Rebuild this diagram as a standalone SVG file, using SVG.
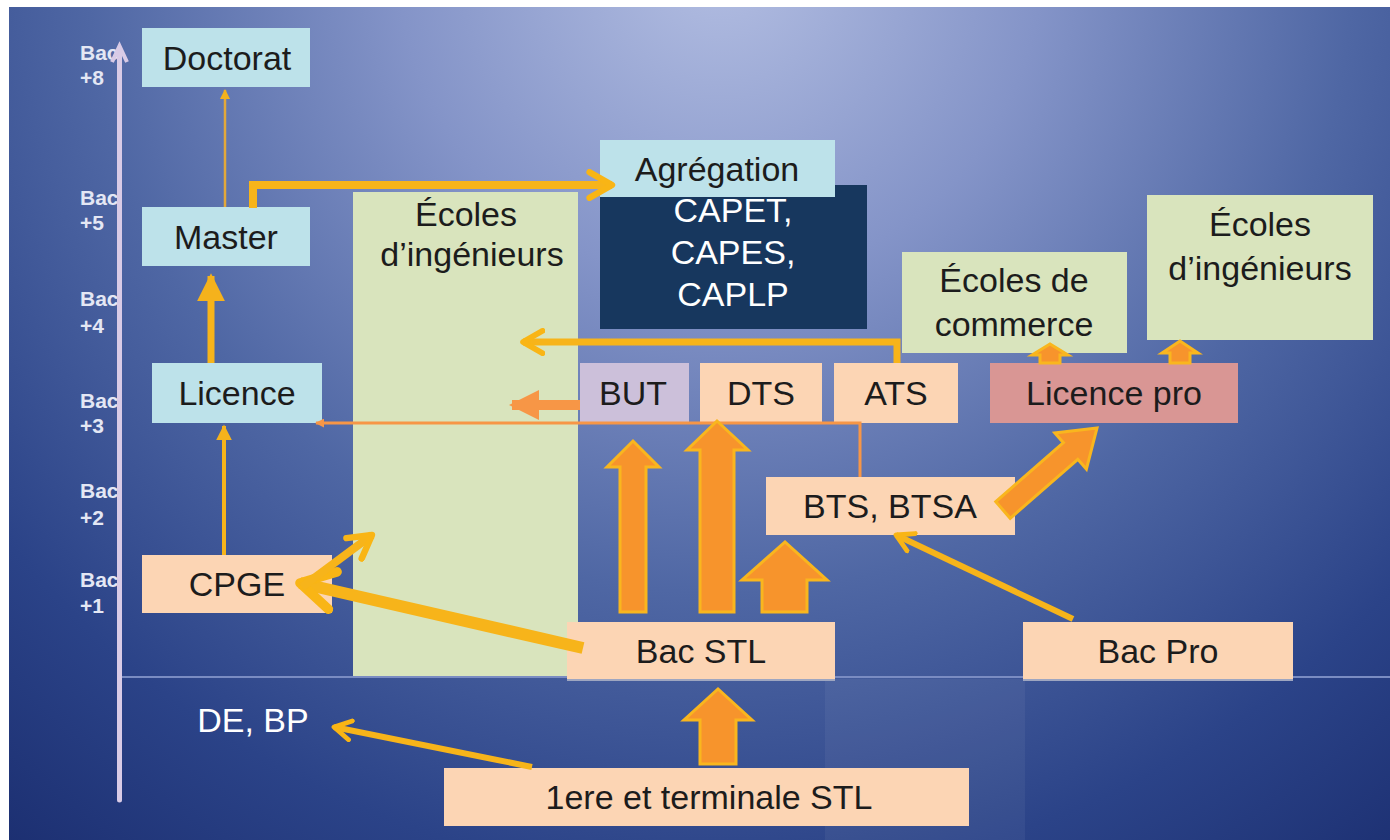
<svg xmlns="http://www.w3.org/2000/svg" width="1390" height="840" viewBox="0 0 1390 840">
<defs>
<radialGradient id="bg" gradientUnits="userSpaceOnUse" cx="720" cy="-40" r="1150">
<stop offset="0" stop-color="#b3bee2"/>
<stop offset="0.28" stop-color="#8494c8"/>
<stop offset="0.55" stop-color="#4f67a4"/>
<stop offset="0.8" stop-color="#2b4388"/>
<stop offset="1" stop-color="#1b2e70"/>
</radialGradient>
<marker id="chev" viewBox="0 0 10 10" refX="8" refY="5" markerWidth="4" markerHeight="4" orient="auto" markerUnits="strokeWidth">
<path d="M1,1 L8,5 L1,9" fill="none" stroke="#f9b515" stroke-width="2" stroke-linecap="round" stroke-linejoin="round"/>
</marker>
<marker id="tri" viewBox="0 0 10 10" refX="9" refY="5" markerWidth="3" markerHeight="3" orient="auto" markerUnits="strokeWidth">
<path d="M0,0 L10,5 L0,10 z" fill="#f79646"/>
</marker>
<marker id="triy" viewBox="0 0 10 10" refX="9" refY="5" markerWidth="4" markerHeight="4" orient="auto" markerUnits="strokeWidth">
<path d="M0,0 L10,5 L0,10 z" fill="#f5b21c"/>
</marker>
</defs>
<style>
.lbl{font-family:"Liberation Sans",Arial,sans-serif;font-size:34px;fill:#1c1c1c;text-anchor:middle}
.wt{font-family:"Liberation Sans",Arial,sans-serif;font-size:34px;fill:#ffffff;text-anchor:middle}
.ax{font-family:"Liberation Sans",Arial,sans-serif;font-size:21px;font-weight:bold;fill:#e4e7f4}
.blue{fill:#bde2ea}
.peach{fill:#fcd5b4}
.green{fill:#d9e4bd}
.gold{fill:none;stroke:#f7b41a;stroke-linecap:butt}
.org{fill:none;stroke:#f79646}
.blk{fill:#f7942c;stroke:#f9b61e;stroke-width:3;stroke-linejoin:miter}
</style>
<rect width="1390" height="840" fill="#ffffff"/>
<rect x="9" y="7" width="1381" height="833" fill="url(#bg)"/>
<rect x="825" y="679" width="200" height="161" fill="#ffffff" opacity="0.05"/>
<line x1="122" y1="677" x2="1390" y2="677" stroke="#7a8cc2" stroke-width="2"/>

<g id="axis">
<text class="ax" x="80" y="60">Bac</text><text class="ax" x="80" y="85">+8</text>
<text class="ax" x="80" y="205">Bac</text><text class="ax" x="80" y="230">+5</text>
<text class="ax" x="80" y="306">Bac</text><text class="ax" x="80" y="333">+4</text>
<text class="ax" x="80" y="408">Bac</text><text class="ax" x="80" y="433">+3</text>
<text class="ax" x="80" y="498">Bac</text><text class="ax" x="80" y="525">+2</text>
<text class="ax" x="80" y="587">Bac</text><text class="ax" x="80" y="613">+1</text>
<line x1="119.5" y1="52" x2="119.5" y2="800" stroke="#d9cbe6" stroke-width="5" stroke-linecap="round"/>
<polyline points="112,62 119.5,46 127,62" fill="none" stroke="#d9cbe6" stroke-width="4"/>
</g>

<g id="ecoles-ing-tall"><rect class="green" x="353" y="192" width="225" height="484"/>
<text class="lbl" x="466" y="226">Écoles</text><text class="lbl" x="472" y="266">d’ingénieurs</text></g>

<g id="doctorat"><rect class="blue" x="142" y="28" width="168" height="59"/><text class="lbl" x="227" y="70">Doctorat</text></g>
<g id="master"><rect class="blue" x="142" y="207" width="168" height="59"/><text class="lbl" x="226" y="249">Master</text></g>
<g id="licence"><rect class="blue" x="152" y="363" width="170" height="60"/><text class="lbl" x="237" y="405">Licence</text></g>
<g id="cpge"><rect class="peach" x="142" y="555" width="190" height="58"/><text class="lbl" x="237" y="596">CPGE</text></g>

<g id="capet"><rect x="600" y="185" width="267" height="144" fill="#17375e"/>
<text class="wt" x="733" y="222">CAPET,</text><text class="wt" x="733" y="264">CAPES,</text><text class="wt" x="733" y="306">CAPLP</text></g>
<g id="agregation"><rect class="blue" x="600" y="140" width="235" height="57"/><text class="lbl" x="717" y="181">Agrégation</text></g>

<g id="but"><rect x="580" y="363" width="109" height="60" fill="#ccc0da"/><text class="lbl" x="633" y="405">BUT</text></g>
<g id="dts"><rect class="peach" x="700" y="363" width="122" height="60"/><text class="lbl" x="761" y="405">DTS</text></g>
<g id="ats"><rect class="peach" x="834" y="363" width="124" height="60"/><text class="lbl" x="896" y="405">ATS</text></g>
<g id="licence-pro"><rect x="990" y="363" width="248" height="60" fill="#d99694"/><text class="lbl" x="1114" y="405">Licence pro</text></g>

<g id="ecoles-commerce"><rect class="green" x="902" y="252" width="225" height="101"/>
<text class="lbl" x="1014" y="292">Écoles de</text><text class="lbl" x="1014" y="336">commerce</text></g>
<g id="ecoles-ing-right"><rect class="green" x="1147" y="195" width="226" height="145"/>
<text class="lbl" x="1260" y="236">Écoles</text><text class="lbl" x="1260" y="280">d’ingénieurs</text></g>

<g id="bts"><rect class="peach" x="766" y="477" width="249" height="58"/><text class="lbl" x="890" y="518">BTS, BTSA</text></g>
<g id="bac-stl"><rect class="peach" x="567" y="622" width="268" height="58"/><line x1="567" y1="680" x2="835" y2="680" stroke="#9ea6c0" stroke-width="2"/><text class="lbl" x="701" y="663">Bac STL</text></g>
<g id="bac-pro"><rect class="peach" x="1023" y="622" width="270" height="58"/><line x1="1023" y1="680" x2="1293" y2="680" stroke="#9ea6c0" stroke-width="2"/><text class="lbl" x="1158" y="663">Bac Pro</text></g>
<g id="premiere"><rect class="peach" x="444" y="768" width="525" height="58"/><text class="lbl" x="709" y="809">1ere et terminale STL</text></g>
<g id="de-bp"><text class="wt" x="253" y="732">DE, BP</text></g>

<g id="connectors">
<line x1="225" y1="207" x2="225" y2="90" stroke="#e3a83a" stroke-width="2.5" marker-end="url(#triy)"/>
<line class="gold" x1="211" y1="363" x2="211" y2="276" stroke-width="7" marker-end="url(#triy)"/>
<line class="gold" x1="224" y1="555" x2="224" y2="426" stroke-width="4" marker-end="url(#triy)"/>
<polyline class="gold" points="253,208 253,185 612,185" stroke-width="8" marker-end="url(#chev)"/>
<polyline class="gold" points="897,363 897,342 523,342" stroke-width="7" marker-end="url(#chev)"/>
<line class="org" x1="580" y1="405" x2="512" y2="405" stroke-width="10" marker-end="url(#tri)"/>
<polyline class="org" points="860,477 860,423 316,423" stroke-width="3" marker-end="url(#tri)"/>
<line class="gold" x1="583" y1="648" x2="300" y2="583" stroke-width="12" marker-end="url(#chev)"/>
<line class="gold" x1="302" y1="587" x2="372" y2="535" stroke-width="8" marker-end="url(#chev)"/>
<line class="gold" x1="1073" y1="619" x2="896" y2="535" stroke-width="6" marker-end="url(#chev)"/>
<line class="gold" x1="532" y1="767" x2="334" y2="727" stroke-width="6" marker-end="url(#chev)"/>
<polygon class="blk" points="620,612 620,467 607,467 633,441 659,467 646,467 646,612"/>
<polygon class="blk" points="700,612 700,450 687,450 717,421 748,450 734,450 734,612"/>
<polygon class="blk" points="762,612 762,580 742,580 785,542 827,580 807,580 807,612"/>
<polygon class="blk" points="700,764 700,720 684,720 718,689 752,720 736,720 736,764"/>
<polygon class="blk" points="1040,363 1040,355 1032,355 1050,344 1068,355 1060,355 1060,363"/>
<polygon class="blk" points="1170,363 1170,353 1162,353 1180,341 1198,353 1190,353 1190,363"/>
<polygon class="blk" points="995.8,501.7 1063.4,442.7 1054.8,432.9 1097,428 1086.4,469.1 1077.8,459.3 1010.2,518.3"/>
</g>
</svg>
